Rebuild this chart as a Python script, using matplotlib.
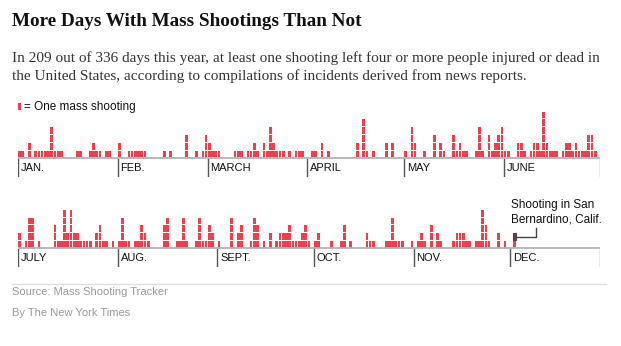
"""Mass shootings per day in 2015 (Jan 1 - Dec 2), one block per shooting."""
import matplotlib
matplotlib.use("Agg")
import matplotlib.pyplot as plt
import numpy as np
from matplotlib.patches import Rectangle

W, H = 621, 346
RED = "#e8414f"
DARK = "#7a3a3a"
SANS = "Liberation Sans"
SERIF = "Liberation Serif"

# daily counts of mass shootings
jan = [1, 1, 0, 2, 0, 1, 1, 1, 1, 1, 4, 1, 1, 1, 0, 0, 0, 0, 1, 1, 0, 0, 1, 2, 1, 1, 0, 1, 1, 0, 0]
feb = [2, 0, 0, 1, 1, 1, 1, 1, 1, 0, 0, 0, 0, 0, 1, 0, 1, 0, 0, 0, 0, 3, 0, 0, 1, 0, 1, 3]
mar = [2, 1, 1, 1, 0, 0, 0, 0, 1, 1, 1, 0, 1, 1, 2, 1, 0, 2, 1, 4, 2, 1, 1, 1, 0, 1, 0, 1, 1, 1, 0]
apr = [0, 1, 1, 0, 2, 0, 1, 0, 0, 0, 0, 0, 0, 0, 0, 2, 0, 5, 1, 0, 1, 0, 0, 0, 2, 0, 2, 0, 0, 0]
may = [1, 0, 4, 2, 0, 0, 1, 0, 0, 3, 0, 2, 1, 0, 0, 3, 1, 2, 1, 1, 0, 0, 1, 4, 1, 0, 3, 1, 2, 3, 4]
jun = [1, 1, 0, 0, 2, 2, 1, 0, 1, 2, 2, 1, 6, 2, 1, 1, 1, 0, 1, 2, 2, 1, 2, 1, 1, 1, 3, 3, 1, 0]
jul = [2, 0, 1, 4, 4, 0, 1, 0, 0, 0, 0, 3, 1, 1, 5, 2, 5, 2, 2, 1, 1, 1, 1, 0, 2, 3, 1, 1, 0, 1, 0]
aug = [1, 4, 1, 1, 0, 1, 1, 3, 2, 1, 0, 0, 0, 0, 3, 4, 0, 0, 1, 1, 4, 1, 0, 0, 1, 4, 1, 1, 3, 2, 0]
sep = [1, 0, 0, 0, 4, 0, 2, 3, 0, 0, 1, 4, 3, 0, 1, 0, 2, 0, 1, 2, 2, 2, 3, 1, 1, 1, 2, 3, 1, 0]
oct_ = [1, 2, 0, 0, 0, 1, 0, 0, 1, 3, 0, 1, 0, 0, 0, 0, 2, 1, 1, 0, 0, 0, 1, 1, 4, 1, 1, 1, 0, 0, 1]
nov = [0, 1, 2, 1, 0, 3, 0, 2, 1, 0, 0, 0, 1, 2, 2, 2, 1, 1, 0, 1, 1, 5, 3, 1, 0, 0, 2, 0, 1, 0]
dec = [0, 2]

row1_labels = ["JAN.", "FEB.", "MARCH", "APRIL", "MAY", "JUNE"]
row2_labels = ["JULY", "AUG.", "SEPT.", "OCT.", "NOV.", "DEC."]

NDAYS = 181          # both rows share one day scale
BLOCK_PX = 7.8       # pixel height of one block
YMAX, YMIN = 7, -2.44


def px_box(left, top, right, bottom):
    return [left / W, 1 - bottom / H, (right - left) / W, (bottom - top) / H]


def draw_row(ax, months, labels):
    counts = np.concatenate(months)
    days = np.arange(len(counts))
    for k in range(counts.max()):
        m = counts > k
        ax.bar(days[m] + 0.5, 0.87, width=0.84, bottom=k + 0.07, color=RED, linewidth=0)
    starts = np.cumsum([0] + [len(mo) for mo in months[:-1]])
    ax.plot([0, NDAYS], [0, 0], color="#b3b3b3", lw=1.3, solid_capstyle="butt", zorder=3)
    ax.vlines(starts, YMIN, 0, color="#555555", lw=1)
    ax.vlines([NDAYS], YMIN, 0, color="#999999", lw=1)
    for s, lab in zip(starts, labels):
        ax.text(s + 0.9, -1.3, lab, fontsize=8, family=SANS, color="#111111",
                va="center", ha="left")
    ax.set_xlim(0, NDAYS)
    ax.set_ylim(YMIN, YMAX)
    ax.axis("off")
    return counts


fig = plt.figure(figsize=(W / 100, H / 100), dpi=100)
fig.patch.set_facecolor("white")

span = (YMAX - YMIN) * BLOCK_PX
ax1 = fig.add_axes(px_box(18, 177 - span, 600, 177))
ax2 = fig.add_axes(px_box(18, 267.3 - span, 600, 267.3))

draw_row(ax1, [jan, feb, mar, apr, may, jun], row1_labels)
c2 = draw_row(ax2, [jul, aug, sep, oct_, nov, dec], row2_labels)

# highlight San Bernardino (last block of Dec. 2)
last = len(c2) - 1
ax2.bar(last + 0.5, 0.87, width=0.9, bottom=c2[last] - 1 + 0.07, color=DARK,
        edgecolor="#444444", linewidth=0.8, zorder=4)
x0, y0 = last + 1, c2[last] - 0.5
ax2.plot([x0, x0 + 6, x0 + 6], [y0, y0, y0 + 1.1], color="#444444", lw=1, zorder=4)
fig.text(511 / W, 1 - 205 / H, "Shooting in San", fontsize=8.5, family=SANS,
         color="#111111", va="center")
fig.text(511 / W, 1 - 220 / H, "Bernardino, Calif.", fontsize=8.5, family=SANS,
         color="#111111", va="center")

# header
fig.text(12 / W, 1 - 21 / H, "More Days With Mass Shootings Than Not", fontsize=13.8,
         fontweight="bold", family=SERIF, color="#111111", va="center")
fig.text(12 / W, 1 - 58 / H,
         "In 209 out of 336 days this year, at least one shooting left four or more people injured or dead in",
         fontsize=11, family=SERIF, color="#333333", va="center")
fig.text(12 / W, 1 - 76 / H,
         "the United States, according to compilations of incidents derived from news reports.",
         fontsize=11, family=SERIF, color="#333333", va="center")

# legend
fig.add_artist(Rectangle((18 / W, 1 - 110 / H), 2.6 / W, 7 / H, transform=fig.transFigure,
                         facecolor=RED, edgecolor="none"))
fig.text(24 / W, 1 - 106.5 / H, "= One mass shooting", fontsize=8.5, family=SANS,
         color="#111111", va="center")

# footer
fig.add_artist(plt.Line2D([12 / W, 606 / W], [1 - 284 / H, 1 - 284 / H],
                          transform=fig.transFigure, color="#dddddd", lw=1))
fig.text(12 / W, 1 - 292 / H, "Source: Mass Shooting Tracker", fontsize=8, family=SANS,
         color="#999999", va="center")
fig.text(12 / W, 1 - 313 / H, "By The New York Times", fontsize=8, family=SANS,
         color="#999999", va="center")

fig.savefig("out.png", dpi=100)
